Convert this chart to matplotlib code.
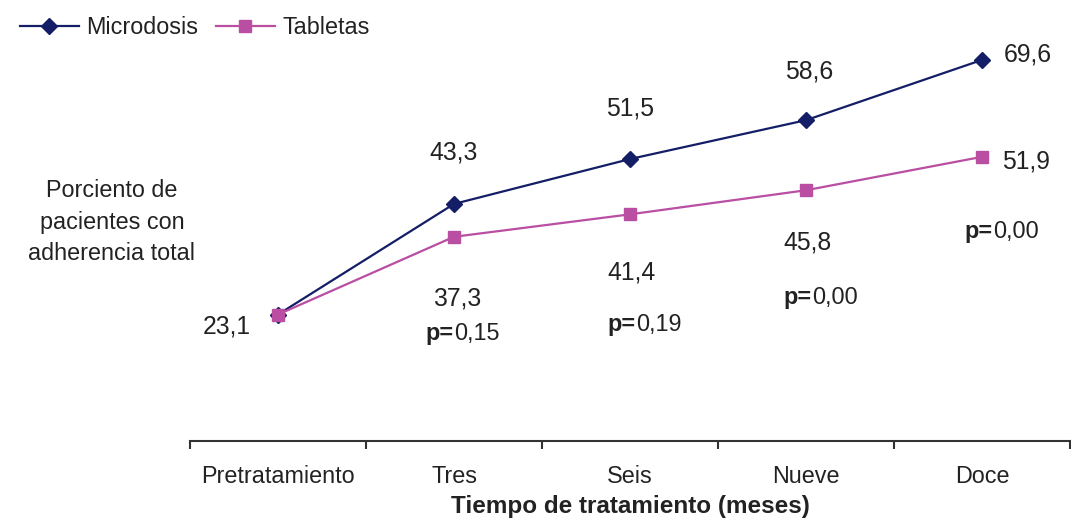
import matplotlib
matplotlib.use("Agg")
import matplotlib.pyplot as plt

plt.rcParams['font.family'] = ['Liberation Sans', 'DejaVu Sans']

categories = ["Pretratamiento", "Tres", "Seis", "Nueve", "Doce"]
microdosis = [23.1, 43.3, 51.5, 58.6, 69.6]
tabletas = [23.1, 37.3, 41.4, 45.8, 51.9]
p_values = [None, "0,15", "0,19", "0,00", "0,00"]

NAVY = "#141e66"
MAGENTA = "#b94ea2"
TXT = "#222222"
FS = 16.8
FS_NUM = 17.8

fig = plt.figure(figsize=(10.71, 5.21), dpi=100)
ax = fig.add_axes([190 / 1071, 1 - 441 / 521, 880 / 1071, 438 / 521])

x = list(range(len(categories)))
ax.plot(x, microdosis, color=NAVY, lw=1.6, marker="D", ms=8.5,
        mfc=NAVY, mec=NAVY, label="Microdosis", zorder=3)
ax.plot(x, tabletas, color=MAGENTA, lw=1.6, marker="s", ms=8,
        mfc=MAGENTA, mec=MAGENTA, label="Tabletas", zorder=4)

ax.set_xlim(-0.5, len(categories) - 0.5)
ax.set_ylim(0, 80)
for s in ["top", "right", "left"]:
    ax.spines[s].set_visible(False)
ax.spines["bottom"].set_linewidth(1.5)
ax.spines["bottom"].set_color("#333333")
ax.set_yticks([])
ax.set_xticks([i - 0.5 for i in range(len(categories) + 1)])
ax.set_xticklabels([])
ax.set_xticks(x, minor=True)
ax.set_xticklabels(categories, minor=True, fontsize=FS, color=TXT)
ax.tick_params(axis="x", which="major", direction="out", length=6,
               width=1.5, color="#333333")
ax.tick_params(axis="x", which="minor", length=0, pad=17)

ax.set_xlabel("Tiempo de tratamiento (meses)", fontsize=17.5, fontweight="bold",
              color=TXT, labelpad=5)

fig.text(112 / 1071, 1 - 222 / 521,
         "Porciento de\npacientes con\nadherencia total",
         ha="center", va="center", fontsize=FS, color=TXT,
         linespacing=1.45)


def fmt(v):
    return f"{v:.1f}".replace(".", ",")


px = 0.72  # points per pixel at 100 dpi

# label offsets (pixels, right / up) for each series
micro_off = [None, (0, 51), (0, 51), (3, 49), (46, 5)]
tab_off = [(-51, -12), (3, -62), (1, -58), (1, -52), (44, -5)]
# right edge of the bold "p=" relative to the Tabletas point
p_off = [None, (0, -97), (6, -110), (6, -107), (11, -75)]

for i, v in enumerate(microdosis):
    if micro_off[i] is None:
        continue
    dx, dy = micro_off[i]
    ax.annotate(fmt(v), (i, v), xytext=(dx * px, dy * px),
                textcoords="offset points", ha="center", va="center",
                fontsize=FS_NUM, color=TXT)

for i, v in enumerate(tabletas):
    dx, dy = tab_off[i]
    ax.annotate(fmt(v), (i, v), xytext=(dx * px, dy * px),
                textcoords="offset points", ha="center", va="center",
                fontsize=FS_NUM, color=TXT)

for i, p in enumerate(p_values):
    if p is None:
        continue
    dx, dy = p_off[i]
    # bold "p=" followed by the value in regular weight
    t1 = ax.annotate("p=", (i, tabletas[i]), xytext=(dx * px, dy * px),
                     textcoords="offset points", ha="right", va="center",
                     fontsize=FS, fontweight="bold", color=TXT)
    ax.annotate(p, xy=(1, 0), xycoords=t1, xytext=(0, 0),
                textcoords="offset points", ha="left", va="bottom",
                fontsize=FS, color=TXT)

fig.legend(loc="upper left", bbox_to_anchor=(0.003, 1.0), ncol=2,
           frameon=False, fontsize=FS, handlelength=2.55, handletextpad=0.3,
           columnspacing=0.75, borderaxespad=0.3,
           labelcolor=TXT)

fig.savefig("out.png", dpi=100)
